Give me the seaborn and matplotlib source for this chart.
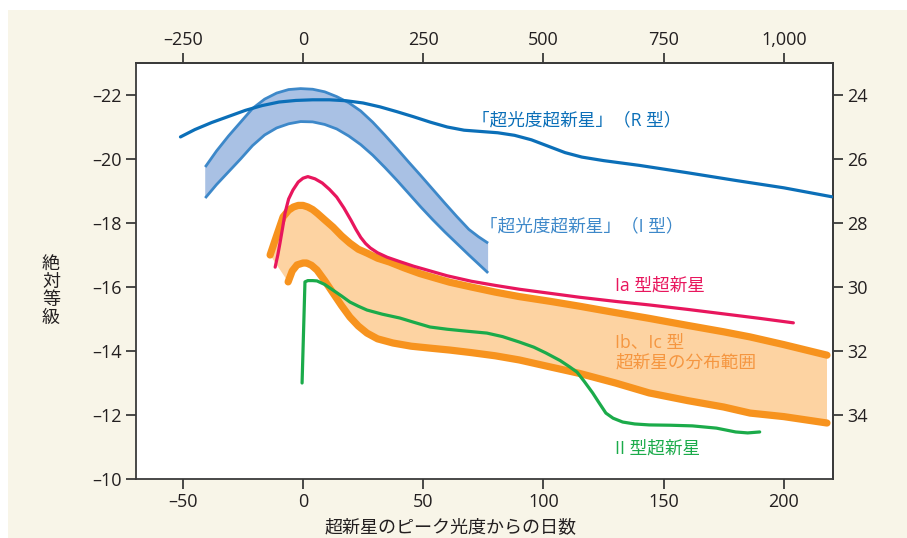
import numpy as np
import matplotlib
matplotlib.use("Agg")
import matplotlib.pyplot as plt
from matplotlib.patches import Rectangle
from matplotlib.ticker import FuncFormatter
import seaborn as sns

# --- data (days from peak, absolute magnitude) ---
r_days = [-51, -45, -38, -31, -24, -17, -10, -3, 4, 11, 18, 25, 32, 39, 46, 53, 60, 67,
          74, 81, 88, 95, 102, 109, 116, 125, 140, 160, 180, 200, 220]
r_mag = [-20.69, -20.92, -21.14, -21.33, -21.52, -21.67, -21.78, -21.83, -21.85, -21.85,
         -21.82, -21.75, -21.63, -21.48, -21.32, -21.15, -21.0, -20.9, -20.86, -20.82,
         -20.74, -20.6, -20.4, -20.2, -20.06, -19.95, -19.8, -19.57, -19.33, -19.1, -18.82]

i_days = [-40.7, -36, -31, -26, -21, -16, -11, -6, -1, 4, 9, 14, 19, 24, 29, 34, 39, 44,
          49, 54, 59, 64, 69, 73, 77]
i_upper = [-19.75, -20.25, -20.72, -21.15, -21.58, -21.87, -22.06, -22.17, -22.2, -22.18,
           -22.1, -21.95, -21.76, -21.5, -21.15, -20.75, -20.33, -19.9, -19.48, -19.05,
           -18.62, -18.2, -17.8, -17.57, -17.37]
i_lower = [-18.78, -19.2, -19.6, -20.0, -20.42, -20.75, -20.97, -21.1, -21.17, -21.16,
           -21.08, -20.94, -20.72, -20.45, -20.12, -19.74, -19.34, -18.92, -18.5, -18.1,
           -17.72, -17.36, -17.0, -16.72, -16.44]

ia_days = [-11.6, -10.5, -9.6, -8.5, -7.5, -6, -4.2, -2, 0, 2, 5, 8, 11, 14, 17, 20, 22,
           24, 26, 28, 31, 35, 40, 46, 53, 60, 70, 80, 90, 103, 115, 130, 144, 160, 175,
           190, 204]
ia_mag = [-16.62, -17.0, -17.37, -17.85, -18.31, -18.75, -19.03, -19.28, -19.4, -19.45,
          -19.38, -19.25, -19.05, -18.81, -18.47, -18.08, -17.8, -17.55, -17.36, -17.22,
          -17.07, -16.93, -16.8, -16.65, -16.5, -16.35, -16.18, -16.05, -15.93, -15.8,
          -15.68, -15.55, -15.44, -15.3, -15.16, -15.02, -14.88]

ibc_up_days = [-13.7, -11, -8.3, -6, -4, -2, 0, 2, 4, 6, 9, 12.5, 16, 19.5, 23, 26.6, 31,
               36, 42, 48.6, 55, 61, 70, 80, 90, 103, 115, 130, 144, 160, 175, 186, 200, 218]
ibc_up_mag = [-17.0, -17.6, -18.19, -18.4, -18.5, -18.55, -18.55, -18.5, -18.42, -18.3,
              -18.1, -17.87, -17.6, -17.37, -17.18, -17.06, -16.9, -16.78, -16.6, -16.42,
              -16.28, -16.15, -16.0, -15.84, -15.7, -15.55, -15.4, -15.2, -15.02, -14.8,
              -14.6, -14.44, -14.2, -13.87]
ibc_lo_days = [-6.2, -4.5, -2.5, 0, 1.5, 3.5, 5.8, 9, 12.5, 16, 19.5, 23, 26.6, 31, 37.4,
               45, 52.8, 61, 70, 80, 90, 103, 115, 130, 144, 160, 175, 186, 200, 218]
ibc_lo_mag = [-16.16, -16.5, -16.69, -16.75, -16.75, -16.68, -16.53, -16.2, -15.81, -15.42,
              -15.06, -14.78, -14.56, -14.38, -14.25, -14.15, -14.09, -14.03, -13.95, -13.85,
              -13.72, -13.5, -13.3, -13.0, -12.69, -12.45, -12.25, -12.06, -11.95, -11.75]

ii_days = [-0.4, 0.8, 2, 4, 5.8, 9, 12.5, 16, 19.5, 23, 26.6, 33, 40.3, 46, 52.8, 60, 68,
           76.5, 83, 90, 96, 101, 107, 111, 114, 117, 120.5, 123, 126, 129, 133, 138, 144,
           153, 162, 172, 180, 185, 190]
ii_mag = [-13.0, -16.16, -16.2, -16.2, -16.19, -16.08, -15.9, -15.72, -15.53, -15.4, -15.28,
          -15.15, -15.03, -14.9, -14.75, -14.68, -14.62, -14.56, -14.45, -14.28, -14.12,
          -13.94, -13.7, -13.5, -13.34, -13.05, -12.69, -12.4, -12.06, -11.9, -11.78,
          -11.72, -11.69, -11.68, -11.66, -11.59, -11.47, -11.44, -11.47]

x_ticks = [-50, 0, 50, 100, 150, 200]
y_ticks = [-22, -20, -18, -16, -14, -12, -10]
top_ticks = [-250, 0, 250, 500, 750, 1000]
right_ticks = [24, 26, 28, 30, 32, 34]

# colours
C_R = "#0b6fb8"
C_I_EDGE = "#3d88c9"
C_I_FILL = "#a9c1e4"
C_IA = "#e8165d"
C_IBC = "#f7931e"
C_IBC_FILL = "#fdd3a2"
C_IBC_TEXT = "#f59640"
C_II = "#1bab4a"
C_AX = "#3a3a3a"
C_TXT = "#231f20"

sns.set_theme(style="ticks")
plt.rcParams["font.family"] = ["Open Sans", "Noto Sans CJK JP", "DejaVu Sans"]


def dash_fmt(v, pos):
    # long dash for negatives, thousands separator
    return f"{v:,.0f}".replace("-", "\u2013")


fig = plt.figure(figsize=(9.07, 5.38), dpi=100, facecolor="white")
fig.patches.append(Rectangle((8 / 907, 0), 1, 1 - 10 / 538, transform=fig.transFigure,
                             facecolor="#f8f5e8", edgecolor="none", zorder=-10))
ax = fig.add_axes([136 / 907, 1 - 479 / 538, (833 - 136) / 907, (479 - 63) / 538])
ax.set_facecolor("white")

# I-type superluminous band
ax.fill(np.concatenate([i_days, i_days[::-1]]), np.concatenate([i_upper, i_lower[::-1]]),
        color=C_I_FILL, lw=0, zorder=1)
sns.lineplot(x=i_days, y=i_upper, ax=ax, color=C_I_EDGE, lw=2.0, sort=False,
             solid_capstyle="butt", zorder=2)
sns.lineplot(x=i_days, y=i_lower, ax=ax, color=C_I_EDGE, lw=2.0, sort=False,
             solid_capstyle="butt", zorder=2)

# Ib / Ic band
ax.fill(np.concatenate([ibc_up_days, ibc_lo_days[::-1]]),
        np.concatenate([ibc_up_mag, ibc_lo_mag[::-1]]),
        color=C_IBC_FILL, lw=0, zorder=1)
sns.lineplot(x=ibc_up_days, y=ibc_up_mag, ax=ax, color=C_IBC, lw=5.2, sort=False,
             solid_capstyle="round", zorder=3)
sns.lineplot(x=ibc_lo_days, y=ibc_lo_mag, ax=ax, color=C_IBC, lw=5.2, sort=False,
             solid_capstyle="round", zorder=3)

# single curves
sns.lineplot(x=r_days, y=r_mag, ax=ax, color=C_R, lw=2.3, sort=False, zorder=4)
sns.lineplot(x=ia_days, y=ia_mag, ax=ax, color=C_IA, lw=2.3, sort=False, zorder=4)
sns.lineplot(x=ii_days, y=ii_mag, ax=ax, color=C_II, lw=2.3, sort=False, zorder=4)

ax.set_xlim(-69.5, 220.5)
ax.set_ylim(-10, -23)
ax.set_xticks(x_ticks)
ax.set_yticks(y_ticks)
ax.xaxis.set_major_formatter(FuncFormatter(dash_fmt))
ax.yaxis.set_major_formatter(FuncFormatter(dash_fmt))
ax.set_xlabel("")
ax.set_ylabel("")

tick_kw = dict(direction="out", length=7, width=1.3, color=C_AX, labelsize=13,
               labelcolor=C_TXT, pad=3)
ax.tick_params(**tick_kw)
for s in ax.spines.values():
    s.set_visible(True)
    s.set_color(C_AX)
    s.set_linewidth(1.3)

top = ax.secondary_xaxis("top", functions=(lambda d: d * 5, lambda d: d / 5))
top.set_xticks(top_ticks)
top.xaxis.set_major_formatter(FuncFormatter(dash_fmt))
top.tick_params(**tick_kw)
top.spines["top"].set_color(C_AX)
top.spines["top"].set_linewidth(1.3)

right = ax.secondary_yaxis("right", functions=(lambda m: m + 46, lambda m: m - 46))
right.set_yticks(right_ticks)
right.tick_params(**tick_kw)
right.spines["right"].set_color(C_AX)
right.spines["right"].set_linewidth(1.3)

# curve labels
lab_kw = dict(fontsize=12.7, va="center", ha="left")
ax.text(70.5, -21.2, "「超光度超新星」（R 型）", color=C_R, **lab_kw)
ax.text(73.5, -17.9, "「超光度超新星」（I 型）", color=C_I_EDGE, **lab_kw)
ax.text(130, -16.05, "Ia 型超新星", color=C_IA, **lab_kw)
ax.text(130, -13.95, "Ib、Ic 型\n超新星の分布範囲", color=C_IBC_TEXT, linespacing=1.1, **lab_kw)
ax.text(130, -10.95, "II 型超新星", color=C_II, **lab_kw)

# axis titles
fig.text(51 / 907, 1 - 291 / 538, "\n".join("絶対等級"), fontsize=13, color=C_TXT,
         ha="center", va="center", linespacing=1.0)
fig.text(451 / 907, 1 - 527 / 538, "超新星のピーク光度からの日数", fontsize=13,
         color=C_TXT, ha="center", va="center")

fig.savefig("out.png", dpi=100, facecolor=fig.get_facecolor())
